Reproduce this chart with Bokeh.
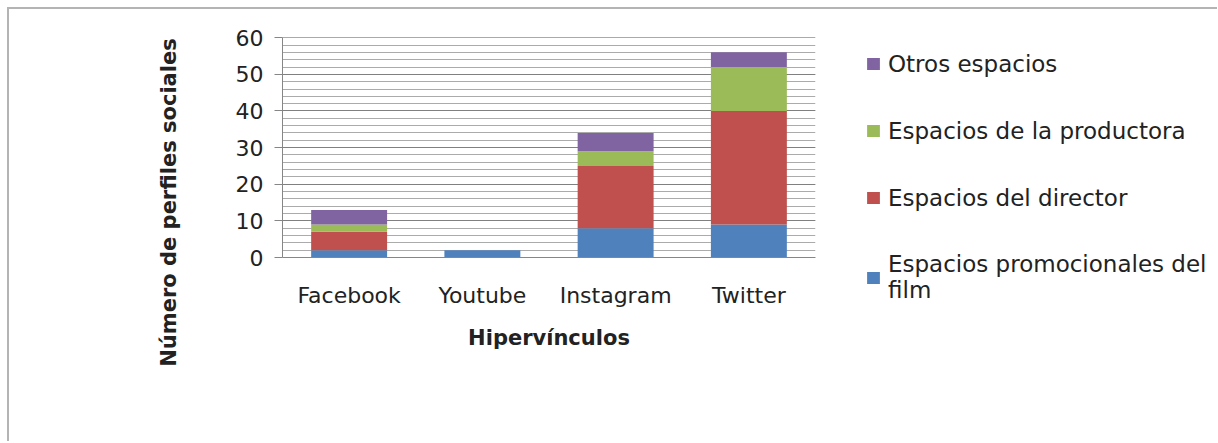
import math
from bokeh.plotting import figure
from bokeh.layouts import row
from bokeh.models import Legend, LegendItem, Label, SingleIntervalTicker, Range1d, FactorRange
from bokeh.embed import file_html
from bokeh.resources import INLINE

categories = ["Facebook", "Youtube", "Instagram", "Twitter"]
promocionales = [2, 2, 8, 9]
director = [5, 0, 17, 31]
productora = [2, 0, 4, 12]
otros = [4, 0, 5, 4]

series_keys = ["promocionales", "director", "productora", "otros"]
series_labels = ["Espacios promocionales del\nfilm", "Espacios del director",
                 "Espacios de la productora", "Otros espacios"]
colors = ["#4F81BD", "#C0504D", "#9BBB59", "#8064A2"]

y_ticks_interval = 10
y_max = 60

FONT = "DejaVu Sans"
TXT = "#222222"
H = 432

data = dict(cat=categories, promocionales=promocionales, director=director,
            productora=productora, otros=otros)


def blank(width):
    f = figure(width=width, height=H, x_range=Range1d(0, 1), y_range=Range1d(0, 1),
               output_backend="svg", toolbar_location=None,
               x_axis_location=None, y_axis_location=None, min_border=0)
    f.grid.visible = False
    f.outline_line_color = None
    f.background_fill_color = "white"
    f.border_fill_color = "white"
    f.frame_align = False
    return f


# left strip: y-axis title
c = blank(200)
c.add_layout(Label(x=159, y=239, x_units="screen", y_units="screen", text="Número de perfiles sociales",
                   angle=math.pi / 2, text_align="center", text_baseline="middle",
                   text_font=FONT, text_font_size="21px", text_font_style="bold", text_color=TXT))

# main chart
p = figure(x_range=FactorRange(*categories, range_padding=0), y_range=Range1d(0, y_max + 0.06),
           width=616, height=H, output_backend="svg", toolbar_location=None,
           min_border_left=73, min_border_right=10, min_border_top=28, min_border_bottom=184)
p.frame_align = False
p.outline_line_color = None
p.background_fill_color = "white"
p.border_fill_color = "white"

renderers = p.vbar_stack(series_keys, x="cat", width=0.57, color=colors, line_color=None, source=data)

p.yaxis.ticker = SingleIntervalTicker(interval=y_ticks_interval, num_minor_ticks=5)
p.yaxis.axis_line_color = "#868686"
p.yaxis.major_tick_line_color = "#868686"
p.yaxis.major_tick_out = 8
p.yaxis.major_tick_in = 0
p.yaxis.minor_tick_line_color = None
p.yaxis.major_label_standoff = 11
p.yaxis.major_label_text_font = FONT
p.yaxis.major_label_text_font_size = "22px"
p.yaxis.major_label_text_color = TXT

p.xaxis.axis_line_color = "#868686"
p.xaxis.major_tick_line_color = None
p.xaxis.minor_tick_line_color = None
p.xaxis.major_label_standoff = 19
p.xaxis.major_label_text_font = FONT
p.xaxis.major_label_text_font_size = "22px"
p.xaxis.major_label_text_color = TXT
p.xaxis.axis_label = "Hipervínculos"
p.xaxis.axis_label_standoff = 15
p.xaxis.axis_label_text_font = FONT
p.xaxis.axis_label_text_font_size = "21px"
p.xaxis.axis_label_text_font_style = "bold"
p.xaxis.axis_label_text_color = TXT

p.xgrid.grid_line_color = None
p.ygrid.grid_line_color = "#808080"
p.ygrid.minor_grid_line_color = "#ababab"

# right strip: legend (swatches use zero-height bars that draw nothing themselves)
b = blank(392)
legend_renderers = [b.vbar(x=[0.5], top=[0], bottom=[0], width=0, color=col, line_color=None)
                    for col in colors]
items = [LegendItem(label=series_labels[i], renderers=[legend_renderers[i]]) for i in reversed(range(4))]
legend = Legend(items=items, location=(40, 138), padding=0, margin=0, spacing=40,
                glyph_width=16, glyph_height=15, label_height=27, label_standoff=7,
                label_text_font=FONT, label_text_font_size="23px", label_text_color=TXT,
                border_line_color=None, background_fill_alpha=0)
b.add_layout(legend, "center")

layout = row(c, p, b)
layout.styles = {"margin-left": "7px", "margin-top": "7px",
                 "border-left": "2px solid #b4b4b4", "border-top": "2px solid #b4b4b4"}

open("out.html", "w").write(file_html(layout, INLINE))
